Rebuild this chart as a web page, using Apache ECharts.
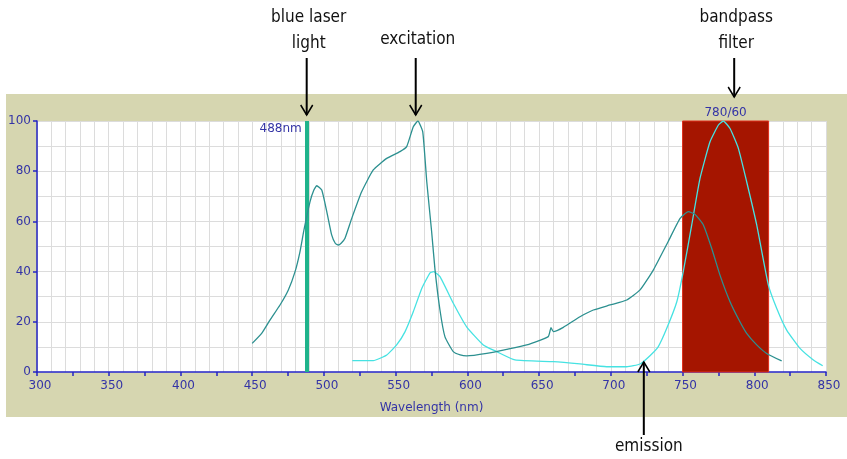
<!DOCTYPE html>
<html>
<head>
<meta charset="utf-8">
<script src="https://cdn.jsdelivr.net/npm/echarts@6/dist/echarts.min.js"></script>
<style>
html,body{margin:0;padding:0;background:#fff;}
#chart{width:847px;height:459px;}
</style>
</head>
<body>
<div id="chart"></div>
<script>
// ---- data ----
var excitationNm = [450,456.6,462.4,469.4,475.2,479.9,483.3,486.1,490.3,493,495,498.5,502,505.4,508,510,512,514.7,519.4,526.3,534.4,543.8,553,557.7,562.3,565.5,568.9,571.7,575.1,577.4,580.9,584.4,590.2,595,599.5,613.5,627.4,641.4,656.4,658.3,659.9,666.9,678.5,687.8,699.5,711.1,720.4,729.6,740,748.3,754,758.7,764.5,770.3,776.1,783.1,790,794.7,801.7,808.6,819.1];
var excitationVal = [11.4,15.4,20.7,26.7,32.7,40,47.9,56.6,67.8,72.5,74.2,72.5,63.9,54.6,51.2,50.6,51.3,53.3,61.2,71.8,80.5,85.1,87.8,89.8,97.7,100,95.7,75.8,55.9,41,24.7,14,8.1,6.8,6.4,7.4,9,10.8,14.1,17.7,16.1,17.8,22,24.7,26.7,28.7,32.7,40.6,52,61.2,63.9,62.8,58.6,49.3,38.6,28,20,15.4,10.8,7.4,4.4];
var emissionNm = [519.8,534.4,543.8,550.7,556.5,562.3,568.2,574,576.5,580.9,590.2,599.5,611.1,620.5,633.2,659.9,678.5,697.1,711.1,720.4,727.3,733,739,746,750.5,756.4,762.2,769.2,775,778.4,783.1,788.9,794.7,801.7,809.8,815.6,822.6,831.9,841.2,847.7];
var emissionVal = [4.5,4.5,6.8,10.8,16,24,33.3,39.5,40,38,27.4,18,10.8,8.1,4.8,4.1,3.2,2.1,2.1,3.2,6.5,10,17.4,28,40,58.6,77.2,91.8,98.4,100,97,89.1,75.8,58.6,34.7,25.4,16.7,9.4,4.8,2.5];
var laserNm = 488;
var laserLabel = '488nm';
var filterRange = [750, 810];
var filterLabel = '780/60';
var xTickLabels = [300,350,400,450,500,550,600,650,700,750,800,850];
var yTickLabels = [0,20,40,60,80,100];
var annotations = [
  {lines:['blue laser','light'], nm:488, side:'top'},
  {lines:['excitation'], nm:564, side:'top'},
  {lines:['bandpass','filter'], nm:786, side:'top'},
  {lines:['emission'], nm:723, side:'bottom'}
];

function zip(a,b){return a.map(function(v,i){return [v,b[i]];});}

var BLUE_TXT = '#3434a6';
var BLUE_AX = '#2424c4';
var GRID = '#dcdcdc';
var FONT = 'DejaVu Sans';

var chart = echarts.init(document.getElementById('chart'), null, {renderer:'canvas'});

var option = {
  animation:false,
  backgroundColor:'#ffffff',
  grid:{left:37, right:21, top:121, bottom:87, show:true, backgroundColor:'#ffffff', borderWidth:0},
  xAxis:[{
    type:'value', min:300, max:850, interval:25,
    name:'Wavelength (nm)', nameLocation:'middle', nameGap:30,
    nameTextStyle:{color:BLUE_TXT, fontFamily:FONT, fontSize:12},
    axisLine:{show:true, onZero:false, lineStyle:{color:BLUE_AX, width:1.5}},
    axisTick:{show:true, length:4, lineStyle:{color:BLUE_AX, width:1.5}},
    axisLabel:{color:BLUE_TXT, fontFamily:FONT, fontSize:12, margin:8, padding:[0,0,0,6],
      formatter:function(v){return xTickLabels.indexOf(v)>=0 ? String(v) : '';}},
    splitLine:{show:false}
  },{
    type:'value', min:300, max:850, interval:10, position:'bottom',
    axisLine:{show:false}, axisTick:{show:false}, axisLabel:{show:false},
    splitLine:{show:true, lineStyle:{color:GRID, width:1}}
  }],
  yAxis:{
    type:'value', min:0, max:100, interval:20,
    axisLine:{show:true, lineStyle:{color:BLUE_AX, width:1.5}},
    axisTick:{show:true, length:4, lineStyle:{color:BLUE_AX, width:1.5}},
    axisLabel:{color:BLUE_TXT, fontFamily:FONT, fontSize:12, margin:6,
      formatter:function(v){return yTickLabels.indexOf(v)>=0 ? String(v) : '';}},
    splitLine:{show:true, lineStyle:{color:GRID, width:1}},
    minorTick:{show:false, splitNumber:2},
    minorSplitLine:{show:true, lineStyle:{color:GRID, width:1}}
  },
  series:[{
    type:'line', data:[], z:1, silent:true,
    markArea:{
      silent:true,
      itemStyle:{color:'#a51500', borderColor:'#e0301c', borderWidth:1},
      label:{show:true, position:'top', distance:2, color:BLUE_TXT, fontFamily:FONT, fontSize:12, formatter:filterLabel},
      data:[[{xAxis:filterRange[0]},{xAxis:filterRange[1]}]]
    },
    markLine:{
      silent:true, symbol:['none','none'],
      lineStyle:{color:'#1fb38b', width:4, type:'solid'},
      label:{show:false},
      data:[{xAxis:laserNm}]
    }
  },{
    name:'excitation', type:'line', data:zip(excitationNm, excitationVal), z:5,
    showSymbol:false, symbol:'none', smooth:0.15,
    lineStyle:{color:'#2c9090', width:1.3}
  },{
    name:'emission', type:'line', data:zip(emissionNm, emissionVal), z:4,
    showSymbol:false, symbol:'none', smooth:0.15,
    lineStyle:{color:'#46e2e2', width:1.3}
  }]
};
chart.setOption(option);

// ---- annotations (background panel, labels, arrows) ----
var g = [];
g.push({type:'rect', z:-100, silent:true, shape:{x:6, y:94, width:841, height:323}, style:{fill:'#d6d6b0'}});
var laserPx = chart.convertToPixel({xAxisIndex:0, yAxisIndex:0}, [laserNm, 100]);
g.push({type:'text', z:50, silent:true, style:{x:laserPx[0]-5, y:laserPx[1]+8, text:laserLabel, align:'right', verticalAlign:'middle', fill:BLUE_TXT, font:'12px "DejaVu Sans"'}});

var AFONT = '17px "Liberation Sans Narrow", "DejaVu Sans Condensed", "Liberation Sans", sans-serif';
annotations.forEach(function(a){
  var px = chart.convertToPixel({xAxisIndex:0, yAxisIndex:0}, [a.nm, 0])[0];
  var y0, y1;
  if(a.side === 'top'){
    y0 = 58;
    y1 = a.nm > 700 ? 97 : 115;
    a.lines.forEach(function(t, i){
      var cy = a.lines.length === 2 ? (18 + i*26) : 40;
      g.push({type:'text', z:50, silent:true, style:{x:px+2, y:cy, text:t, align:'center', verticalAlign:'middle', fill:'#111', font:AFONT}});
    });
    g.push({type:'line', z:50, silent:true, shape:{x1:px, y1:y0, x2:px, y2:y1}, style:{stroke:'#000', lineWidth:2}});
    g.push({type:'polyline', z:50, silent:true, shape:{points:[[px-6, y1-10],[px, y1],[px+6, y1-10]]}, style:{stroke:'#000', lineWidth:1.5, fill:null}});
  } else {
    y0 = 435; y1 = 362;
    g.push({type:'text', z:50, silent:true, style:{x:px+5, y:447, text:a.lines[0], align:'center', verticalAlign:'middle', fill:'#111', font:AFONT}});
    g.push({type:'line', z:50, silent:true, shape:{x1:px, y1:y0, x2:px, y2:y1}, style:{stroke:'#000', lineWidth:2}});
    g.push({type:'polyline', z:50, silent:true, shape:{points:[[px-6, y1+10],[px, y1],[px+6, y1+10]]}, style:{stroke:'#000', lineWidth:1.5, fill:null}});
  }
});
chart.setOption({graphic:g});
</script>
</body>
</html>
